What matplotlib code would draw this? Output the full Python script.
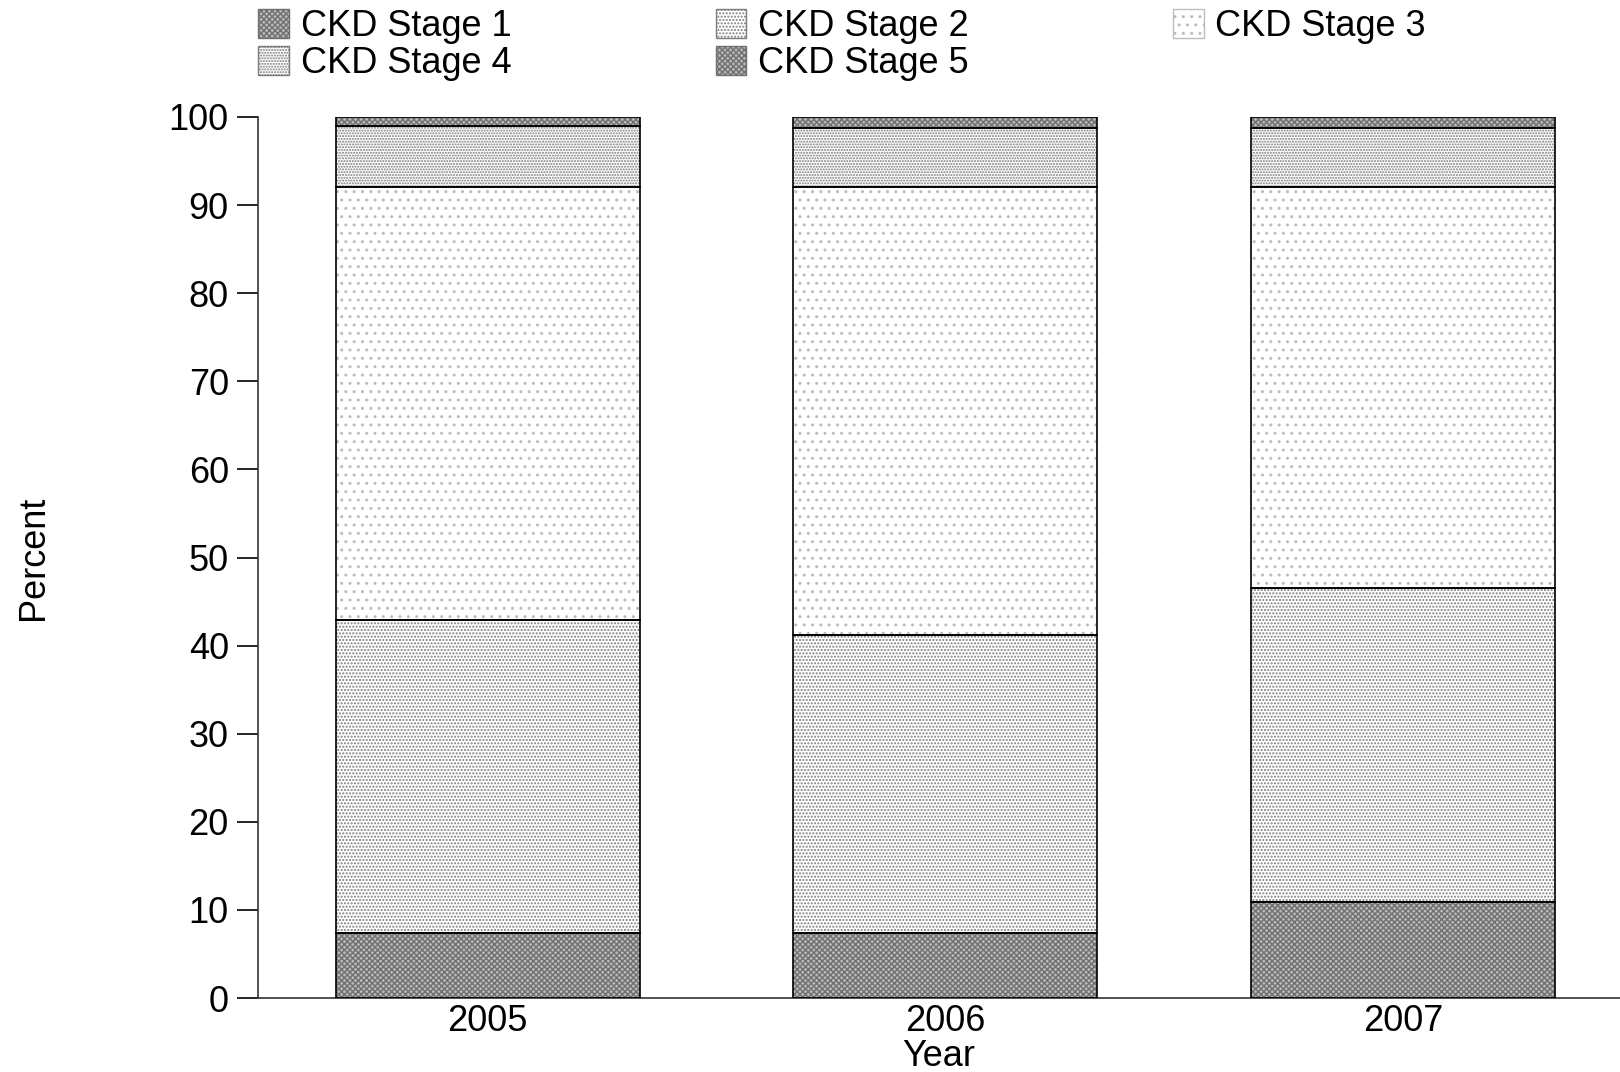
import matplotlib
matplotlib.use("Agg")
import matplotlib.pyplot as plt
import numpy as np
from matplotlib.patches import Patch

plt.rcParams['font.family'] = ['Liberation Sans', 'DejaVu Sans']
plt.rcParams['hatch.linewidth'] = 1.0

years = ["2005", "2006", "2007"]
stages = ["CKD Stage 1", "CKD Stage 2", "CKD Stage 3", "CKD Stage 4", "CKD Stage 5"]
stage1 = [7.4, 7.4, 10.9]
stage2 = [35.5, 33.8, 35.6]
stage3 = [49.2, 50.8, 45.5]
stage4 = [6.9, 6.8, 6.8]
stage5 = [1.0, 1.2, 1.2]
series = [stage1, stage2, stage3, stage4, stage5]

styles = [
    dict(fc='#bababa', hatch='xxxxxx', hc='#707070'),
    dict(fc='white', hatch='.....', hc='#7e7e7e'),
    dict(fc='white', hatch='..', hc='#bdbdbd'),
    dict(fc='white', hatch='......', hc='#7a7a7a'),
    dict(fc='#bababa', hatch='xxxxxx', hc='#707070'),
]

fig = plt.figure(figsize=(16.2, 10.72), dpi=100)
ax = fig.add_axes([258/1620, 1-998/1072, 1-258/1620, (998-117)/1072])

x = np.arange(len(years))
width = 0.664
bottom = np.zeros(len(years))
for vals, st in zip(series, styles):
    vals = np.array(vals)
    ax.bar(x, vals, width, bottom=bottom, color=st['fc'], edgecolor=st['hc'],
           hatch=st['hatch'], linewidth=0, zorder=2)
    ax.bar(x, vals, width, bottom=bottom, fill=False, edgecolor='black',
           linewidth=1.2, zorder=3)
    bottom += vals

ax.set_xlim(-0.502, 2.474)
ax.set_ylim(0, 100)
ax.set_yticks(range(0, 101, 10))
ax.set_xticks(x)
ax.set_xticklabels(years)
ax.tick_params(axis='y', direction='out', length=15, width=1.2, labelsize=26, pad=6)
ax.tick_params(axis='x', length=0, labelsize=26, pad=4)
for s in ['top', 'right']:
    ax.spines[s].set_visible(False)
ax.spines['left'].set_linewidth(1.2)
ax.spines['bottom'].set_linewidth(1.2)
ax.spines['left'].set_color('#333333')
ax.spines['bottom'].set_color('#333333')
ax.set_ylabel('Percent', fontsize=26, labelpad=85)
ax.set_xlabel('Year', fontsize=26, labelpad=0)

handles = []
for name, st in zip(stages, styles):
    handles.append(Patch(facecolor=st['fc'], edgecolor=st['hc'], hatch=st['hatch'], linewidth=1.0, label=name))
order = [0, 3, 1, 4, 2]
leg = fig.legend([handles[i] for i in order], [stages[i] for i in order],
                 ncol=3, loc='upper left', bbox_to_anchor=(244/1620, 1.005),
                 frameon=False, fontsize=26, handlelength=0.85, handleheight=0.85,
                 handletextpad=0.32, columnspacing=5.66, labelspacing=0.06,
                 borderaxespad=0.0)

fig.savefig('out.png', dpi=100)
